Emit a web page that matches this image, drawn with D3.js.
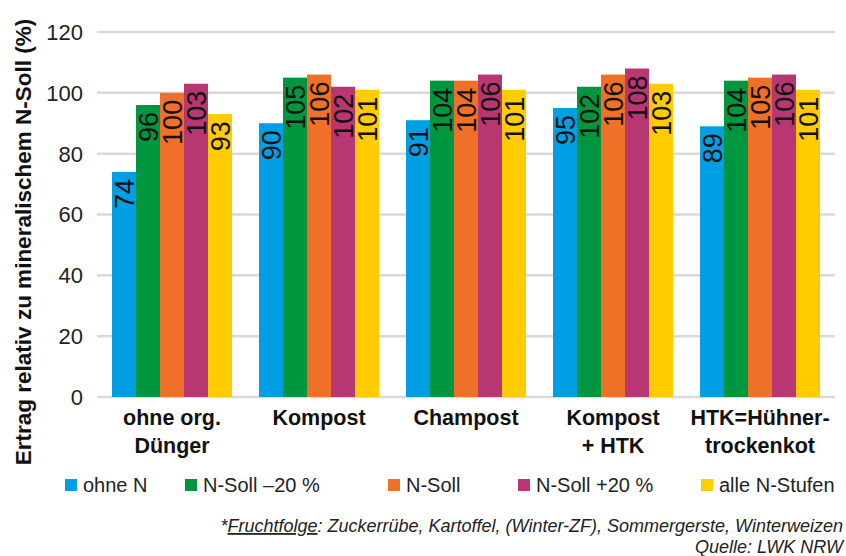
<!DOCTYPE html>
<html>
<head>
<meta charset="utf-8">
<script src="https://cdn.jsdelivr.net/npm/d3@7"></script>
<style>
  body { margin: 0; background: #fff; }
  text { font-family: "Liberation Sans", Arial, sans-serif; }
  .narrow { font-family: "Liberation Sans Narrow", "Arial Narrow", "Liberation Sans", sans-serif; font-stretch: condensed; }
</style>
</head>
<body>
<div id="chart"></div>
<script>
// categories (two-line labels)
var categories = ["ohne org. Dünger", "Kompost", "Champost", "Kompost + HTK", "HTK=Hühnertrockenkot"];
var categoryLines = [["ohne org.", "Dünger"], ["Kompost"], ["Champost"], ["Kompost", "+ HTK"], ["HTK=Hühner-", "trockenkot"]];

var seriesNames = ["ohne N", "N-Soll –20 %", "N-Soll", "N-Soll +20 %", "alle N-Stufen"];
var seriesColors = ["#009fe3", "#009640", "#ee7127", "#b83671", "#ffcc00"];

// values per series, one per category
var ohneN      = [74, 90, 91, 95, 89];
var nSollMinus = [96, 105, 104, 102, 104];
var nSoll      = [100, 106, 104, 106, 105];
var nSollPlus  = [103, 102, 106, 108, 106];
var alleStufen = [93, 101, 101, 103, 101];
var seriesValues = [ohneN, nSollMinus, nSoll, nSollPlus, alleStufen];

var yTicks = [0, 20, 40, 60, 80, 100, 120];

var width = 846, height = 556;

var svg = d3.select("#chart").append("svg")
    .attr("width", width)
    .attr("height", height);

var x = d3.scaleBand()
    .domain(categories)
    .range([98.5, 833.5])
    .paddingInner(27 / 147)
    .paddingOuter(13.5 / 147);

var xs = d3.scaleBand()
    .domain(seriesNames)
    .range([0, x.bandwidth()]);

var y = d3.scaleLinear()
    .domain([0, 120])
    .range([397, 32]);

// gridlines
svg.selectAll(".grid")
    .data(yTicks)
    .enter().append("line")
    .attr("x1", 97).attr("x2", 835)
    .attr("y1", function(d) { return y(d); })
    .attr("y2", function(d) { return y(d); })
    .attr("stroke", "#d9d9d9")
    .attr("stroke-width", 2.5);

// y tick labels
svg.selectAll(".ytick")
    .data(yTicks)
    .enter().append("text")
    .attr("x", 83)
    .attr("y", function(d) { return y(d); })
    .attr("dy", "0.36em")
    .attr("text-anchor", "end")
    .attr("font-size", 22)
    .attr("fill", "#222")
    .text(function(d) { return d; });

// flatten bars
var bars = [];
categories.forEach(function(c, ci) {
    seriesNames.forEach(function(s, si) {
        bars.push({cat: c, series: s, color: seriesColors[si], value: seriesValues[si][ci]});
    });
});

var g = svg.append("g");

g.selectAll("rect")
    .data(bars)
    .enter().append("rect")
    .attr("x", function(d) { return x(d.cat) + xs(d.series); })
    .attr("y", function(d) { return y(d.value); })
    .attr("width", xs.bandwidth())
    .attr("height", function(d) { return y(0) - y(d.value); })
    .attr("fill", function(d) { return d.color; });

// value labels, rotated inside bars
g.selectAll(".val")
    .data(bars)
    .enter().append("text")
    .attr("class", "narrow")
    .attr("transform", function(d) {
        var cx = x(d.cat) + xs(d.series) + xs.bandwidth() / 2;
        return "translate(" + cx + "," + (y(d.value) + 7) + ") rotate(-90)";
    })
    .attr("dy", "0.36em")
    .attr("text-anchor", "end")
    .attr("font-size", 27)
    .attr("fill", "#111")
    .text(function(d) { return d.value; });

// category labels
categories.forEach(function(c, ci) {
    var t = svg.append("text")
        .attr("x", x(c) + x.bandwidth() / 2)
        .attr("y", 425)
        .attr("text-anchor", "middle")
        .attr("font-size", 21.5)
        .attr("font-weight", "bold")
        .attr("fill", "#111");
    categoryLines[ci].forEach(function(line, li) {
        t.append("tspan")
            .attr("x", x(c) + x.bandwidth() / 2)
            .attr("dy", li === 0 ? 0 : 28)
            .text(line);
    });
});

// y axis title
svg.append("text")
    .attr("transform", "translate(31,242) rotate(-90)")
    .attr("text-anchor", "middle")
    .attr("font-size", 22.5)
    .attr("font-weight", "bold")
    .attr("fill", "#111")
    .text("Ertrag relativ zu mineralischem N-Soll (%)");

// legend
var legendX = [65, 185, 388, 518, 701];
var legend = svg.selectAll(".legend")
    .data(seriesNames)
    .enter().append("g")
    .attr("transform", function(d, i) { return "translate(" + legendX[i] + ",0)"; });

legend.append("rect")
    .attr("x", 0).attr("y", 479)
    .attr("width", 12).attr("height", 12)
    .attr("fill", function(d, i) { return seriesColors[i]; });

legend.append("text")
    .attr("x", 18).attr("y", 492)
    .attr("font-size", 20)
    .attr("fill", "#222")
    .text(function(d) { return d; });

// footnote
var foot = svg.append("text")
    .attr("class", "narrow")
    .attr("x", 843).attr("y", 532)
    .attr("text-anchor", "end")
    .attr("font-size", 18)
    .attr("font-style", "italic")
    .attr("fill", "#222");
foot.append("tspan").text("*");
foot.append("tspan").attr("text-decoration", "underline").text("Fruchtfolge");
foot.append("tspan").text(": Zuckerrübe, Kartoffel, (Winter-ZF), Sommergerste, Winterweizen");

svg.append("text")
    .attr("class", "narrow")
    .attr("x", 843).attr("y", 553)
    .attr("text-anchor", "end")
    .attr("font-size", 18)
    .attr("font-style", "italic")
    .attr("fill", "#222")
    .text("Quelle: LWK NRW");
</script>
</body>
</html>
